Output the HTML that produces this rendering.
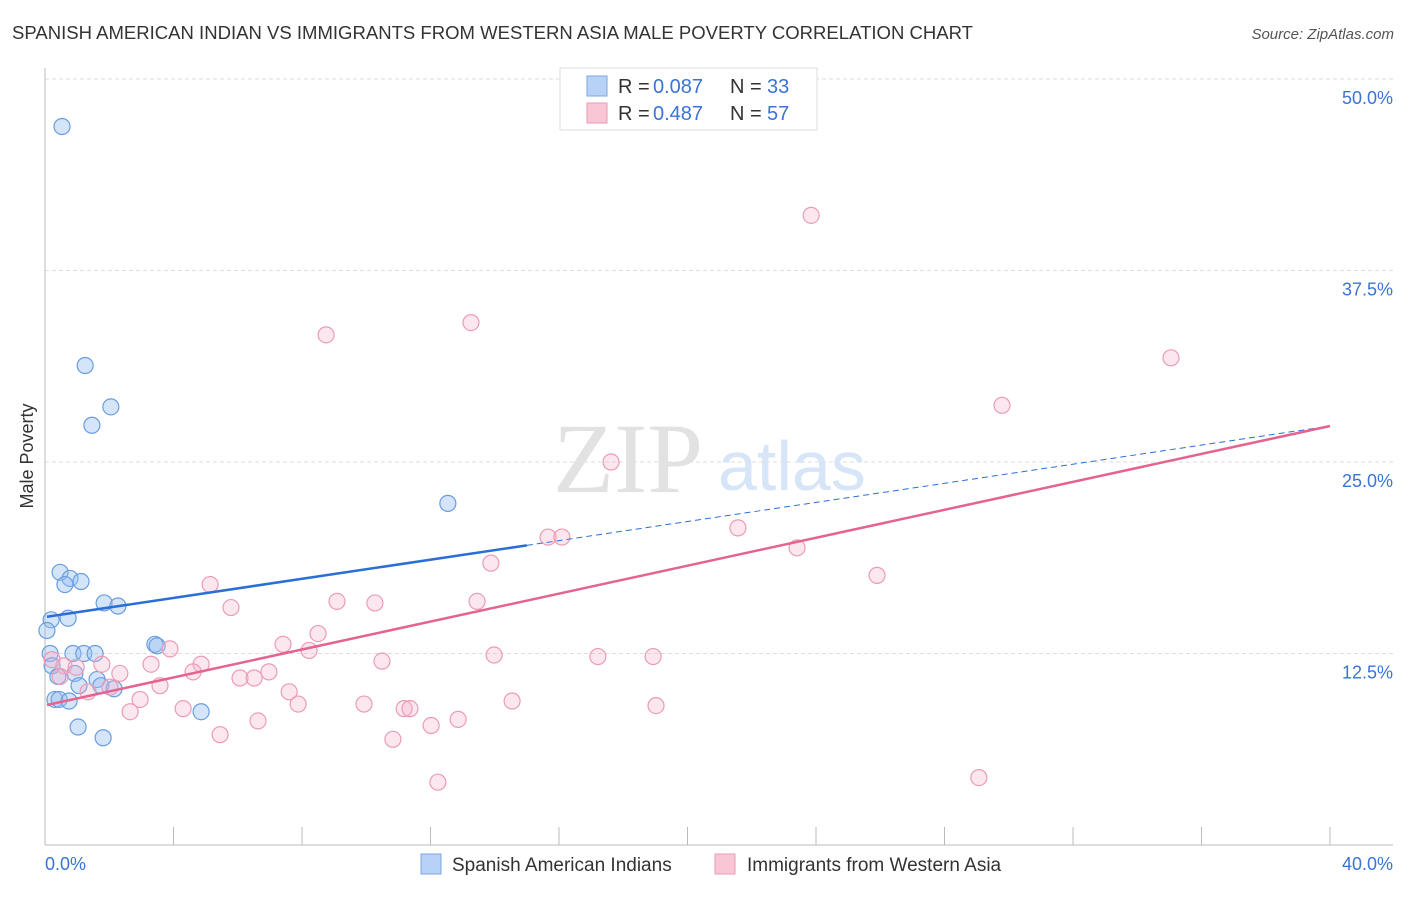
<!DOCTYPE html>
<html><head><meta charset="utf-8"><style>
body{margin:0;background:#fff;font-family:"Liberation Sans",sans-serif}
</style></head><body>
<svg width="1406" height="892" xmlns="http://www.w3.org/2000/svg" font-family="Liberation Sans, sans-serif">
<text x="12" y="39" font-size="18" fill="#333" textLength="961" lengthAdjust="spacingAndGlyphs">SPANISH AMERICAN INDIAN VS IMMIGRANTS FROM WESTERN ASIA MALE POVERTY CORRELATION CHART</text>
<text x="1394" y="39" font-size="15" fill="#555" font-style="italic" text-anchor="end">Source: ZipAtlas.com</text>
<text x="33" y="456" font-size="18" fill="#333" text-anchor="middle" transform="rotate(-90 33 456)">Male Poverty</text>
<g id="grid"></g>
<line x1="45" y1="68" x2="45" y2="845" stroke="#bbb"/>
<line x1="45" y1="845" x2="1393" y2="845" stroke="#bbb"/>
<text x="553" y="492" font-size="100" fill="#e2e2e2" font-family="Liberation Serif, serif">ZIP</text>
<text x="718" y="490" font-size="70" fill="#d6e5f7">atlas</text>
<g id="ticks"></g>
<g id="pts"></g>
<g id="lines"></g>
<text x="45" y="870" font-size="18" fill="#3b73d6">0.0%</text>
<text x="1393" y="870" font-size="18" fill="#3b73d6" text-anchor="end">40.0%</text>
<g>
<rect x="560" y="68" width="257" height="62" fill="#fff" stroke="#ddd"/>
<rect x="587" y="76" width="20" height="20" fill="#b8d2f5" stroke="#7aa6e3"/>
<rect x="587" y="103" width="20" height="20" fill="#f9c6d5" stroke="#ea9ab4"/>
<text x="618" y="93" font-size="20" fill="#333">R =</text>
<text x="653" y="93" font-size="20" fill="#3b73d6">0.087</text>
<text x="730" y="93" font-size="20" fill="#333">N =</text>
<text x="767" y="93" font-size="20" fill="#3b73d6">33</text>
<text x="618" y="120" font-size="20" fill="#333">R =</text>
<text x="653" y="120" font-size="20" fill="#3b73d6">0.487</text>
<text x="730" y="120" font-size="20" fill="#333">N =</text>
<text x="767" y="120" font-size="20" fill="#3b73d6">57</text>
</g>
<g>
<rect x="421" y="854" width="20" height="20" fill="#b8d2f5" stroke="#7aa6e3"/>
<text x="452" y="871" font-size="19" fill="#333">Spanish American Indians</text>
<rect x="715" y="854" width="20" height="20" fill="#f9c6d5" stroke="#ea9ab4"/>
<text x="747" y="871" font-size="19" fill="#333">Immigrants from Western Asia</text>
</g>
</svg>
<script>
const yTicks=[12.5,25,37.5,50];
const yTickLabels=["12.5%","25.0%","37.5%","50.0%"];
const xTicks=[0,4,8,12,16,20,24,28,32,36,40];
const blueX=[.53,1.25,2.05,1.46,12.54,.47,.78,1.12,.62,1.84,2.27,.19,.72,.06,3.42,3.49,.16,.87,1.21,1.56,.22,.40,.93,1.62,1.06,1.74,2.15,.31,.44,.75,4.86,1.03,1.81];
const blueY=[46.9,31.3,28.6,27.4,22.3,17.8,17.4,17.2,17.0,15.8,15.6,14.7,14.8,14.0,13.1,13.0,12.5,12.5,12.5,12.5,11.7,11.0,11.2,10.8,10.4,10.4,10.2,9.5,9.5,9.4,8.7,7.7,7.0];
const pinkX=[23.85,13.26,8.75,35.05,29.79,17.62,21.57,15.66,16.09,23.41,13.88,25.90,5.14,9.09,10.27,13.45,5.79,8.50,7.41,3.89,8.22,13.98,17.21,18.93,10.49,4.86,3.30,1.77,.22,.59,.97,4.61,6.97,2.33,6.07,6.51,3.58,1.34,7.60,2.96,14.54,7.88,9.93,19.02,4.30,11.18,11.36,2.65,6.63,12.86,12.02,5.45,10.83,12.23,29.07,2.02,.47];
const pinkY=[41.1,34.1,33.3,31.8,28.7,25.0,20.7,20.1,20.1,19.4,18.4,17.6,17.0,15.9,15.8,15.9,15.5,13.8,13.1,12.8,12.7,12.4,12.3,12.3,12.0,11.8,11.8,11.8,12.1,11.7,11.6,11.3,11.3,11.2,10.9,10.9,10.4,10.0,10.0,9.5,9.4,9.2,9.2,9.1,8.9,8.9,8.9,8.7,8.1,8.2,7.8,7.2,6.9,4.1,4.4,10.3,11.0];
const blueTrend=[14.9,27.35];
const pinkTrend=[9.14,27.35];
const blueSolidEnd=15;
const NS="http://www.w3.org/2000/svg";
const sx=v=>45+v/40*1285, sy=v=>845-v/50*766;
function mk(t,a,p){const e=document.createElementNS(NS,t);for(const k in a)e.setAttribute(k,a[k]);document.getElementById(p).appendChild(e);return e;}
yTicks.forEach((t,i)=>{
 const l=mk('line',{x1:45,x2:1393,y1:sy(t),y2:sy(t),stroke:'#ddd','stroke-dasharray':'4,3'},'grid');
 
 
 const tx=mk('text',{x:1393,y:sy(t)+25,'font-size':18,fill:'#3b73d6','text-anchor':'end'},'grid');
 tx.textContent=yTickLabels[i];
 
 
});
xTicks.forEach(t=>{
 const l=mk('line',{x1:sx(t),x2:sx(t),y1:827,y2:845,stroke:'#bbb'},'ticks');
 
 
});
blueX.forEach((x,i)=>{
 const c=mk('circle',{cx:sx(x),cy:sy(blueY[i]),r:8,fill:'rgba(150,190,240,0.4)',stroke:'#6a9de0','stroke-width':1.2},'pts');
 
 
});
pinkX.forEach((x,i)=>{
 const c=mk('circle',{cx:sx(x),cy:sy(pinkY[i]),r:8,fill:'rgba(248,175,200,0.3)',stroke:'#eb9bb7','stroke-width':1.2},'pts');
 
 
});
const bAt=x=>blueTrend[0]+(blueTrend[1]-blueTrend[0])*(x-0.06)/(40-0.06);
let l1=mk('line',{x1:sx(0.06),y1:sy(blueTrend[0]),x2:sx(blueSolidEnd),y2:sy(bAt(blueSolidEnd)),stroke:'#2a6fd6','stroke-width':2.5},'lines');


let l2=mk('line',{x1:sx(blueSolidEnd),y1:sy(bAt(blueSolidEnd)),x2:sx(40),y2:sy(blueTrend[1]),stroke:'#2a6fd6','stroke-width':1,'stroke-dasharray':'6,4'},'lines');


let l3=mk('line',{x1:sx(0.06),y1:sy(pinkTrend[0]),x2:sx(40),y2:sy(pinkTrend[1]),stroke:'#e5638f','stroke-width':2.5},'lines');


</script>
</body></html>
